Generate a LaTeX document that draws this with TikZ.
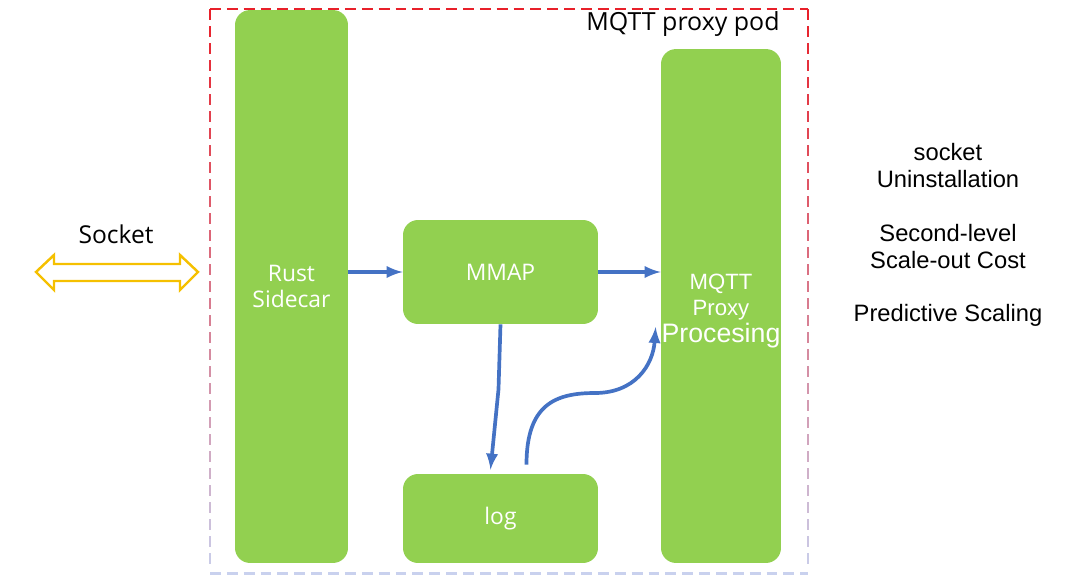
\documentclass[tikz,border=0pt]{standalone}
\usepackage{fontspec}
\setmainfont{Open Sans}
\newfontfamily\arialfont{Liberation Sans}
\definecolor{boxgreen}{RGB}{146,208,80}
\definecolor{flowblue}{RGB}{68,114,196}
\definecolor{sockyellow}{RGB}{245,192,0}
\definecolor{podtop}{RGB}{232,32,42}
\definecolor{podbot}{RGB}{201,209,238}
\tikzset{
  greenbox/.style={fill=boxgreen,rounded corners=0.3cm,text=white,align=center,
    inner sep=0pt,font=\fontsize{13}{14.7}\selectfont},
  flow/.style={-latex,flowblue,line width=2.1pt},
  poddash/.style={line width=1.7pt,dash pattern=on 6.2pt off 3.4pt},
}
\begin{document}
\begin{tikzpicture}[x=0.02cm,y=-0.02cm]
\useasboundingbox (0,0) rectangle (1080,579);

% pod border, red at the top fading to pale blue at the bottom
\draw[poddash,podtop] (210,9) -- (808,9);
\draw[poddash,podbot] (210,573) -- (808,573);
\foreach \y in {9,26,...,560} {
  \pgfmathsetmacro\mixval{(\y-9)/5.64}
  \draw[line width=1.7pt,podbot!\mixval!podtop] (210,\y) -- (210,\y+11);
  \draw[line width=1.7pt,podbot!\mixval!podtop] (808,\y) -- (808,\y+11);
}
\node (podlabel) at (683,24) {\fontsize{14.2}{16}\selectfont MQTT proxy pod};

% boxes
\node[greenbox,minimum width=2.26cm,minimum height=11.06cm] (rust) at (291.5,286.5) {Rust\\Sidecar};
\node[greenbox,minimum width=3.9cm,minimum height=2.08cm] (mmap) at (500.5,272) {MMAP};
\node[greenbox,minimum width=3.9cm,minimum height=1.78cm] (log) at (500.5,518.5) {log};
\node[greenbox,minimum width=2.4cm,minimum height=10.28cm] (mqtt) at (721,306) {};
\node[align=center,text=white,font=\arialfont\fontsize{12.6}{15.3}\selectfont] (mqtttext) at (721,311)
  {MQTT\\Proxy\\{\fontsize{15.2}{15.3}\selectfont Procesing}};

% socket
\node (socklabel) at (116,234) {\fontsize{14}{16}\selectfont Socket};
\draw[sockyellow,line width=1.4pt,line join=miter]
  (36,272) -- (54,255) -- (54,264) -- (180,264) -- (180,255) -- (198,272)
  -- (180,290) -- (180,281) -- (54,281) -- (54,290) -- cycle;

% arrows
\draw[flow] (rust.east |- mmap.west) -- (mmap.west);
\draw[flow] (mmap.east) -- (mqtt.west |- mmap.east);
\draw[flow] (mmap.south) -- ++(-2,65) -- ([xshift=-0.2cm,yshift=0.08cm]log.north);
\draw[flow] ([xshift=0.52cm,yshift=0.18cm]log.north) .. controls +(0,-60) and (555,393) ..
  (595,393) .. controls (635,393) and (653,365) .. ([xshift=-0.1cm,yshift=-0.42cm]mqtt.west);

% notes
\node[font=\arialfont\fontsize{13.5}{15.3}\selectfont,align=center] (notes) at (948,235)
  {socket\\Uninstallation\\[15.2pt]Second-level\\Scale-out Cost\\[15.2pt]Predictive Scaling};

\end{tikzpicture}
\end{document}
